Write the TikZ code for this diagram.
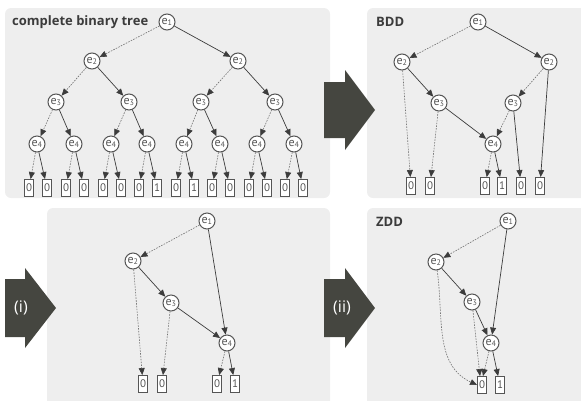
\documentclass[tikz,border=0pt]{standalone}
\usepackage{fontspec}
\setmainfont{PT Sans}
\newfontfamily\titlefont{Open Sans}
\usetikzlibrary{arrows.meta}
\definecolor{panelgray}{RGB}{238,238,238}
\definecolor{arrowdark}{RGB}{69,70,64}
\definecolor{edgedark}{RGB}{60,60,60}
\definecolor{edgelight}{RGB}{115,115,115}
\definecolor{labelgray}{RGB}{85,85,85}
\begin{document}
\begin{tikzpicture}[x=1pt,y=-1pt,
  var/.style={circle, draw=labelgray, line width=1pt, fill=white, minimum size=16pt, inner sep=0pt, text=labelgray, font=\fontsize{12}{12}\selectfont},
  leaf/.style={rectangle, draw=labelgray, line width=.9pt, fill=white, minimum width=9pt, minimum height=17pt, inner sep=0pt, text=labelgray, font=\fontsize{11}{11}\selectfont},
  lo/.style={draw=edgelight, line width=.6pt, dash pattern=on 1.6pt off 1.2pt, -{Triangle[length=7pt,width=6pt,color=edgedark]}},
  hi/.style={draw=edgedark, line width=.7pt, -{Triangle[length=7pt,width=6pt,color=edgedark]}},
  panel/.style={fill=panelgray, rounded corners=6pt},
  bigarrow/.style={fill=arrowdark},
  title/.style={anchor=west, inner sep=0pt, text=labelgray!70!black, font=\titlefont\fontsize{13}{13}\selectfont\bfseries}]
\useasboundingbox (0,0) rectangle (581,400);
\begin{scope}
\clip (0,0) rectangle (581,400);
\fill[panel] (5,8) rectangle (330,198);
\fill[panel] (367,8) rectangle (590,198);
\fill[panel] (47,208) rectangle (330,410);
\fill[panel] (367,208) rectangle (590,410);
\end{scope}
\fill[bigarrow] (324,82) -- (345,82) -- (345,70) -- (375,110) -- (345,150) -- (345,138) -- (324,138) -- cycle;
\fill[bigarrow] (5,279) -- (25,279) -- (25,268) -- (56,308) -- (25,348) -- (25,337) -- (5,337) -- cycle;
\fill[bigarrow] (324,279) -- (345,279) -- (345,268) -- (375,308) -- (345,348) -- (345,337) -- (324,337) -- cycle;
\node[text=white, font=\titlefont\fontsize{16}{16}\selectfont] (stepone) at (21,308) {(i)};
\node[text=white, font=\titlefont\fontsize{16}{16}\selectfont] (steptwo) at (342,308) {(ii)};

\node[title] (treetitle) at (12,22) {complete binary tree};
\node[var] (a1) at (167,22) {e\textsubscript{1}};
\node[var] (b1) at (92,61) {e\textsubscript{2}};
\node[var] (b2) at (238,61) {e\textsubscript{2}};
\node[var] (c1) at (56,102) {e\textsubscript{3}};
\node[var] (c2) at (129,102) {e\textsubscript{3}};
\node[var] (c3) at (201,102) {e\textsubscript{3}};
\node[var] (c4) at (275,102) {e\textsubscript{3}};
\node[var] (d1) at (37,144) {e\textsubscript{4}};
\node[var] (d2) at (74,144) {e\textsubscript{4}};
\node[var] (d3) at (111,144) {e\textsubscript{4}};
\node[var] (d4) at (147,144) {e\textsubscript{4}};
\node[var] (d5) at (184,144) {e\textsubscript{4}};
\node[var] (d6) at (220,144) {e\textsubscript{4}};
\node[var] (d7) at (257,144) {e\textsubscript{4}};
\node[var] (d8) at (294,144) {e\textsubscript{4}};
\node[leaf] (l1) at (29,188) {0};
\node[leaf] (l2) at (47,188) {0};
\node[leaf] (l3) at (66,188) {0};
\node[leaf] (l4) at (84,188) {0};
\node[leaf] (l5) at (103,188) {0};
\node[leaf] (l6) at (121,188) {0};
\node[leaf] (l7) at (139,188) {0};
\node[leaf] (l8) at (157,188) {1};
\node[leaf] (l9) at (176,188) {0};
\node[leaf] (l10) at (194,188) {1};
\node[leaf] (l11) at (212,188) {0};
\node[leaf] (l12) at (230,188) {0};
\node[leaf] (l13) at (249,188) {0};
\node[leaf] (l14) at (267,188) {0};
\node[leaf] (l15) at (285,188) {0};
\node[leaf] (l16) at (303,188) {0};
\draw[lo] (a1) -- (b1); \draw[hi] (a1) -- (b2);
\draw[lo] (b1) -- (c1); \draw[hi] (b1) -- (c2);
\draw[lo] (b2) -- (c3); \draw[hi] (b2) -- (c4);
\draw[lo] (c1) -- (d1); \draw[hi] (c1) -- (d2);
\draw[lo] (c2) -- (d3); \draw[hi] (c2) -- (d4);
\draw[lo] (c3) -- (d5); \draw[hi] (c3) -- (d6);
\draw[lo] (c4) -- (d7); \draw[hi] (c4) -- (d8);
\draw[lo] (d1) -- (l1); \draw[hi] (d1) -- (l2);
\draw[lo] (d2) -- (l3); \draw[hi] (d2) -- (l4);
\draw[lo] (d3) -- (l5); \draw[hi] (d3) -- (l6);
\draw[lo] (d4) -- (l7); \draw[hi] (d4) -- (l8);
\draw[lo] (d5) -- (l9); \draw[hi] (d5) -- (l10);
\draw[lo] (d6) -- (l11); \draw[hi] (d6) -- (l12);
\draw[lo] (d7) -- (l13); \draw[hi] (d7) -- (l14);
\draw[lo] (d8) -- (l15); \draw[hi] (d8) -- (l16);

\node[title] (bddtitle) at (376,22) {BDD};
\node[var] (bdd1) at (478,22) {e\textsubscript{1}};
\node[var] (bdd2a) at (402,62) {e\textsubscript{2}};
\node[var] (bdd2b) at (549,62) {e\textsubscript{2}};
\node[var] (bdd3a) at (439,103) {e\textsubscript{3}};
\node[var] (bdd3b) at (513,103) {e\textsubscript{3}};
\node[var] (bdd4) at (493,144) {e\textsubscript{4}};
\node[leaf] (bddl1) at (411,186) {0};
\node[leaf] (bddl2) at (430,186) {0};
\node[leaf] (bddl3) at (485,186) {0};
\node[leaf] (bddl4) at (502,186) {1};
\node[leaf] (bddl5) at (521,186) {0};
\node[leaf] (bddl6) at (540,186) {0};
\draw[lo] (bdd1) -- (bdd2a); \draw[hi] (bdd1) -- (bdd2b);
\draw[lo] (bdd2a) -- (bddl1); \draw[hi] (bdd2a) -- (bdd3a);
\draw[lo] (bdd3a) -- (bddl2); \draw[hi] (bdd3a) -- (bdd4);
\draw[lo] (bdd2b) -- (bdd3b); \draw[hi] (bdd2b) -- (bddl6);
\draw[lo] (bdd3b) -- (bdd4); \draw[hi] (bdd3b) -- (bddl5);
\draw[lo] (bdd4) -- (bddl3); \draw[hi] (bdd4) -- (bddl4);

\node[var] (red1) at (207,221) {e\textsubscript{1}};
\node[var] (red2) at (133,261) {e\textsubscript{2}};
\node[var] (red3) at (171,303) {e\textsubscript{3}};
\node[var] (red4) at (227,343) {e\textsubscript{4}};
\node[leaf] (redl1) at (143,384) {0};
\node[leaf] (redl2) at (162,384) {0};
\node[leaf] (redl3) at (217,384) {0};
\node[leaf] (redl4) at (235,384) {1};
\draw[lo] (red1) -- (red2); \draw[hi] (red1) -- (red4);
\draw[lo] (red2) -- (redl1); \draw[hi] (red2) -- (red3);
\draw[lo] (red3) -- (redl2); \draw[hi] (red3) -- (red4);
\draw[lo] (red4) -- (redl3); \draw[hi] (red4) -- (redl4);

\node[title] (zddtitle) at (376,222) {ZDD};
\node[var] (zdd1) at (508,221) {e\textsubscript{1}};
\node[var] (zdd2) at (436,262) {e\textsubscript{2}};
\node[var] (zdd3) at (472,302) {e\textsubscript{3}};
\node[var] (zdd4) at (491,343) {e\textsubscript{4}};
\node[leaf] (zddl1) at (482,385) {0};
\node[leaf] (zddl2) at (500,385) {1};
\draw[lo] (zdd1) -- (zdd2); \draw[hi] (zdd1) -- (zdd4);
\draw[lo] (zdd2) to[out=-82, in=155] (zddl1.west); \draw[hi] (zdd2) -- (zdd3);
\draw[lo] (zdd3) -- ([xshift=-2pt]zddl1.north); \draw[hi] (zdd3) -- (zdd4);
\draw[lo] (zdd4) -- ([xshift=1pt]zddl1.north); \draw[hi] (zdd4) -- (zddl2);
\end{tikzpicture}
\end{document}
